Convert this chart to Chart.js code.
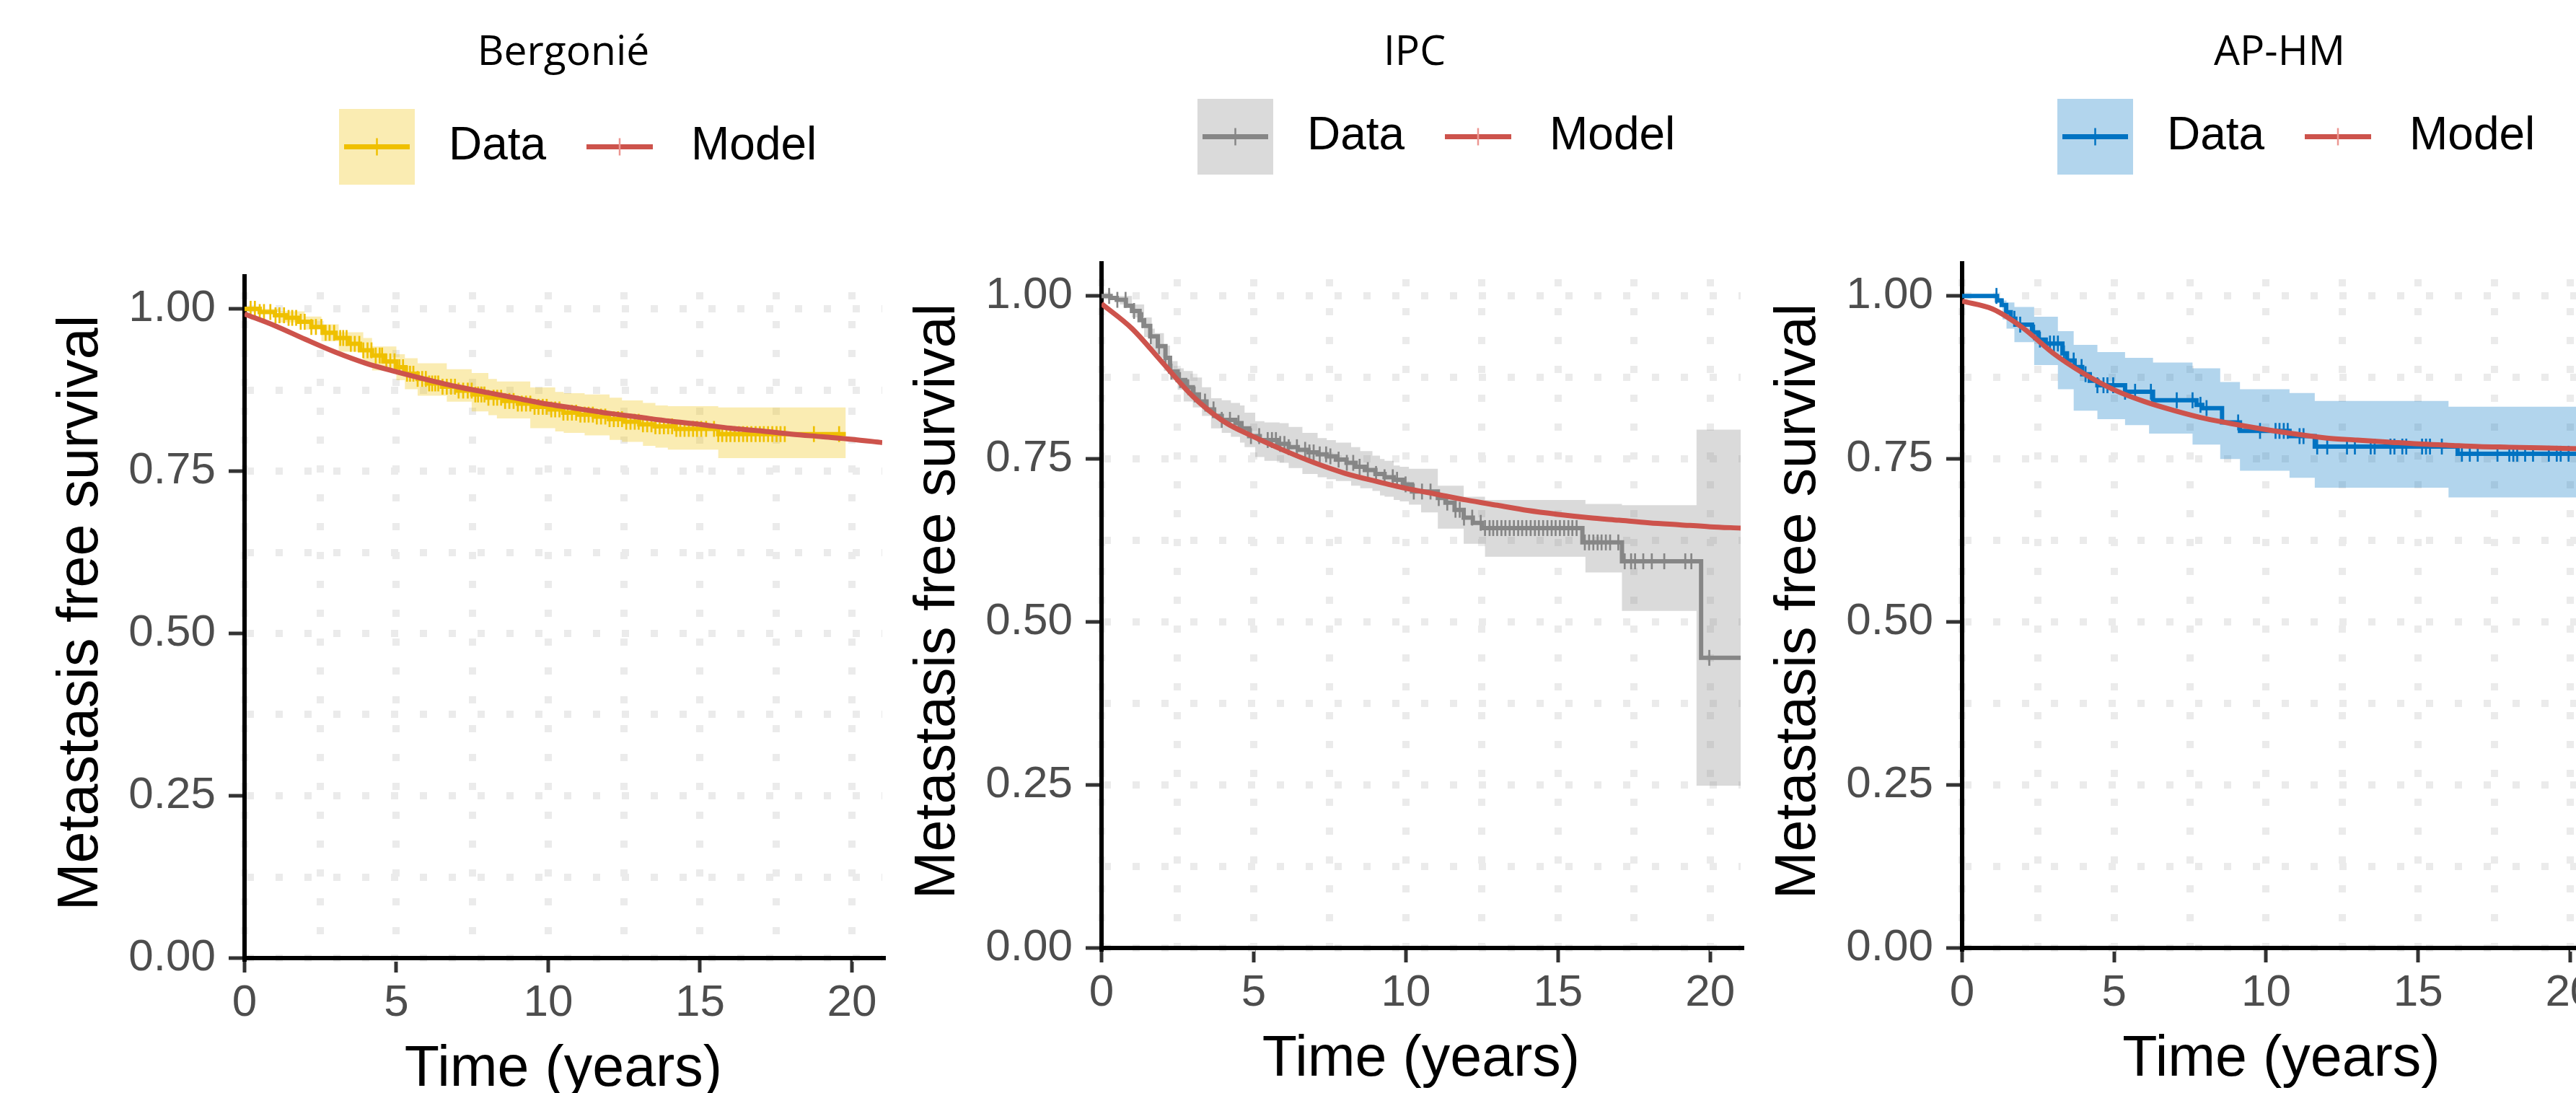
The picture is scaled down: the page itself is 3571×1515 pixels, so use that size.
<!DOCTYPE html>
<html>
<head>
<meta charset="utf-8">
<script src="https://cdn.jsdelivr.net/npm/chart.js@4.4.1/dist/chart.umd.min.js"></script>
<style>
  html, body { margin: 0; padding: 0; background: #fff; }
  body { width: 3571px; height: 1515px; overflow: hidden; position: relative; }
  canvas { position: absolute; top: 0; }
</style>
</head>
<body>
<canvas id="bergonie" width="1240" height="1515" style="left:0px"></canvas>
<canvas id="ipc" width="1190" height="1515" style="left:1240px"></canvas>
<canvas id="aphm" width="1300" height="1515" style="left:2430px"></canvas>
<script>
// axis ticks and texts
const xGrid = [0, 2.5, 5, 7.5, 10, 12.5, 15, 17.5, 20];
const xMajor = [0, 5, 10, 15, 20];
const yGrid = [0, 0.125, 0.25, 0.375, 0.5, 0.625, 0.75, 0.875, 1];
const yMajor = [0, 0.25, 0.5, 0.75, 1];
const xTitle = 'Time (years)';
const yTitle = 'Metastasis free survival';
const seriesNames = ['Data', 'Model'];

// model curves, one value per year
const modelYears = [0, 1, 2, 3, 4, 5, 6, 7, 8, 9, 10, 11, 12, 13, 14, 15, 16, 17, 18, 19, 20, 21];
const bergModel = [0.992, 0.974, 0.953, 0.933, 0.916, 0.903, 0.891, 0.880, 0.871, 0.862, 0.853, 0.846, 0.839, 0.833, 0.827, 0.822, 0.816, 0.812, 0.807, 0.803, 0.799, 0.794];
const ipcModel = [0.988, 0.950, 0.898, 0.846, 0.808, 0.784, 0.763, 0.744, 0.728, 0.716, 0.705, 0.696, 0.687, 0.679, 0.671, 0.665, 0.660, 0.656, 0.652, 0.649, 0.646, 0.644];
const aphmModel = [0.992, 0.980, 0.951, 0.912, 0.881, 0.856, 0.838, 0.824, 0.812, 0.803, 0.795, 0.788, 0.782, 0.779, 0.776, 0.773, 0.771, 0.769, 0.768, 0.767, 0.766, 0.765];

// Bergonié Kaplan-Meier
const bergTime = [0, 0.5, 1.0, 1.4, 1.8, 2.2, 2.6, 3.0, 3.4, 3.8, 4.2, 4.6, 5.0, 5.3, 5.7, 6.0, 6.5, 7.0, 7.5, 8.0, 8.5, 9.0, 9.5, 10.0, 10.5, 11.0, 11.5, 12.0, 12.5, 13.0, 13.5, 14.2, 15.6, 19.8];
const bergSurv = [1.000, 0.995, 0.990, 0.986, 0.980, 0.972, 0.963, 0.955, 0.946, 0.936, 0.928, 0.919, 0.910, 0.900, 0.892, 0.885, 0.880, 0.874, 0.868, 0.863, 0.858, 0.854, 0.849, 0.845, 0.840, 0.837, 0.834, 0.830, 0.826, 0.822, 0.819, 0.815, 0.807, 0.807];
const bergBandTime = [0, 1.16, 1.98, 2.53, 3.1, 3.91, 4.2, 5.0, 5.28, 5.7, 6.66, 7.48, 8.03, 8.31, 9.41, 10.23, 10.51, 11.2, 12.02, 12.43, 13.12, 13.53, 13.94, 15.6, 19.8];
const bergUpper = [1.0, 0.996, 0.988, 0.976, 0.964, 0.955, 0.942, 0.930, 0.924, 0.916, 0.907, 0.901, 0.892, 0.888, 0.879, 0.872, 0.870, 0.868, 0.863, 0.859, 0.855, 0.851, 0.850, 0.848, 0.848];
const bergLower = [0.995, 0.979, 0.968, 0.950, 0.934, 0.913, 0.905, 0.890, 0.876, 0.866, 0.857, 0.842, 0.836, 0.831, 0.816, 0.811, 0.809, 0.805, 0.798, 0.795, 0.789, 0.786, 0.783, 0.770, 0.770];
const bergCensor = [0.2, 0.34, 0.5, 0.64, 0.85, 1.02, 1.15, 1.3, 1.45, 1.57, 1.7, 1.85, 1.98, 2.2, 2.35, 2.53, 2.67, 2.8, 2.95, 3.15, 3.25, 3.36, 3.5, 3.63, 3.78, 3.91, 4.05, 4.18, 4.32, 4.45, 4.53, 4.67, 4.8, 4.94, 5.1, 5.22, 5.35, 5.45, 5.56, 5.7, 5.85, 5.97, 6.08, 6.18, 6.28, 6.38, 6.52, 6.66, 6.8, 6.93, 7.05, 7.2, 7.35, 7.48, 7.6, 7.69, 7.8, 7.9, 8.03, 8.2, 8.32, 8.45, 8.58, 8.72, 8.86, 9.0, 9.13, 9.27, 9.41, 9.55, 9.68, 9.82, 9.95, 10.1, 10.23, 10.37, 10.5, 10.64, 10.78, 10.92, 11.06, 11.2, 11.33, 11.47, 11.6, 11.74, 11.88, 12.02, 12.16, 12.3, 12.43, 12.57, 12.71, 12.85, 12.98, 13.12, 13.26, 13.4, 13.53, 13.67, 13.81, 13.95, 14.08, 14.22, 14.35, 14.49, 14.63, 14.77, 14.9, 15.04, 15.2, 15.46, 15.6, 15.73, 15.87, 16.0, 16.14, 16.28, 16.42, 16.55, 16.69, 16.83, 16.97, 17.1, 17.24, 17.38, 17.52, 17.65, 17.79, 18.75, 19.58];

// IPC Kaplan-Meier
const ipcTime = [0, 0.3, 0.5, 0.8, 1.0, 1.25, 1.4, 1.6, 1.85, 2.1, 2.25, 2.5, 2.75, 3.0, 3.2, 3.45, 3.7, 3.95, 4.4, 4.6, 4.85, 5.2, 5.8, 6.15, 6.45, 6.8, 7.1, 7.4, 7.7, 8.05, 8.35, 8.65, 9.0, 9.3, 9.6, 9.9, 10.2, 11.05, 11.3, 11.6, 11.9, 12.2, 12.5, 15.8, 17.1, 19.7, 22];
const ipcSurv = [1.000, 0.997, 0.994, 0.985, 0.977, 0.963, 0.954, 0.938, 0.923, 0.905, 0.884, 0.871, 0.860, 0.849, 0.838, 0.826, 0.816, 0.810, 0.805, 0.797, 0.785, 0.779, 0.773, 0.768, 0.764, 0.760, 0.757, 0.754, 0.749, 0.744, 0.738, 0.733, 0.727, 0.722, 0.718, 0.711, 0.700, 0.690, 0.683, 0.672, 0.660, 0.652, 0.644, 0.622, 0.593, 0.445, 0.445];
const ipcBandTime = [0, 0.6, 1.0, 1.4, 1.65, 1.75, 2.05, 2.25, 2.5, 2.7, 3.0, 3.3, 3.6, 3.95, 4.25, 4.55, 4.7, 5.05, 5.35, 5.85, 6.15, 6.6, 7.1, 7.4, 7.7, 8.2, 8.5, 8.9, 9.15, 9.3, 9.6, 9.8, 10.1, 10.5, 11.05, 11.9, 12.6, 15.9, 17.1, 19.55, 22];
const ipcUpper = [1.0, 1.0, 0.987, 0.967, 0.950, 0.943, 0.924, 0.900, 0.889, 0.885, 0.875, 0.860, 0.843, 0.840, 0.836, 0.832, 0.821, 0.808, 0.806, 0.805, 0.799, 0.790, 0.782, 0.779, 0.775, 0.768, 0.762, 0.755, 0.750, 0.747, 0.740, 0.738, 0.735, 0.735, 0.709, 0.692, 0.687, 0.681, 0.679, 0.795, 0.795];
const ipcLower = [0.996, 0.987, 0.967, 0.937, 0.912, 0.905, 0.885, 0.871, 0.856, 0.838, 0.829, 0.816, 0.797, 0.790, 0.784, 0.775, 0.768, 0.753, 0.747, 0.744, 0.736, 0.727, 0.722, 0.719, 0.716, 0.709, 0.705, 0.701, 0.694, 0.692, 0.687, 0.685, 0.680, 0.668, 0.643, 0.620, 0.600, 0.576, 0.517, 0.249, 0.249];
const ipcCensor = [0.25, 0.52, 0.79, 1.07, 1.34, 1.62, 1.89, 2.1, 2.3, 2.58, 2.85, 3.06, 3.4, 3.68, 3.95, 4.22, 4.5, 4.91, 5.18, 5.46, 5.6, 5.73, 5.87, 6.01, 6.15, 6.42, 6.69, 6.83, 6.97, 7.17, 7.38, 7.52, 7.79, 8.06, 8.27, 8.48, 8.75, 9.02, 9.3, 9.57, 9.71, 9.99, 10.26, 10.53, 10.81, 11.08, 11.36, 11.63, 11.77, 11.91, 12.18, 12.46, 12.6, 12.75, 12.87, 13.0, 13.14, 13.27, 13.41, 13.55, 13.69, 13.82, 13.96, 14.1, 14.24, 14.37, 14.51, 14.65, 14.79, 14.92, 15.06, 15.2, 15.34, 15.47, 15.61, 15.88, 16.02, 16.16, 16.3, 16.43, 16.57, 16.71, 16.98, 17.19, 17.4, 17.53, 17.8, 18.08, 18.49, 19.18, 19.38, 19.97];

// AP-HM Kaplan-Meier
const aphmTime = [0, 1.15, 1.3, 1.45, 1.6, 1.75, 2.3, 2.5, 2.75, 3.3, 3.45, 3.7, 3.95, 4.2, 4.45, 5.36, 6.28, 7.71, 7.9, 8.55, 9.14, 10.77, 11.6, 16.3, 22];
const aphmSurv = [1.000, 0.993, 0.986, 0.975, 0.965, 0.956, 0.944, 0.933, 0.927, 0.912, 0.901, 0.891, 0.880, 0.870, 0.863, 0.853, 0.840, 0.833, 0.828, 0.806, 0.793, 0.785, 0.769, 0.758, 0.758];
const aphmBandTime = [0, 1.13, 1.33, 1.46, 1.72, 2.37, 3.15, 3.67, 4.45, 5.36, 6.15, 6.28, 7.58, 8.49, 9.14, 10.77, 11.6, 16.0, 22];
const aphmUpper = [1.0, 0.997, 0.993, 0.990, 0.983, 0.968, 0.946, 0.925, 0.914, 0.905, 0.905, 0.898, 0.889, 0.868, 0.857, 0.851, 0.839, 0.830, 0.830];
const aphmLower = [1.0, 0.990, 0.964, 0.950, 0.929, 0.894, 0.857, 0.824, 0.811, 0.802, 0.789, 0.789, 0.772, 0.750, 0.732, 0.721, 0.706, 0.691, 0.691];
const aphmCensor = [1.13, 1.72, 1.91, 2.37, 2.56, 2.89, 3.02, 3.15, 3.35, 3.67, 3.93, 4.06, 4.45, 4.65, 4.78, 4.97, 5.36, 5.69, 6.21, 7.06, 7.58, 7.84, 8.04, 9.08, 9.8, 10.31, 10.44, 10.58, 10.71, 11.1, 11.23, 11.68, 12.01, 12.66, 12.92, 13.44, 13.57, 14.09, 14.22, 14.48, 14.61, 15.13, 15.26, 15.39, 15.78, 16.44, 16.7, 16.96, 17.61, 18.0, 18.13, 18.26, 18.52, 18.78, 19.3, 19.56, 19.69, 19.95];

const modelColor = '#CD534C';
const sansFont = '"Liberation Sans", Arial, sans-serif';

const pts = (xs, ys) => xs.map((x, i) => ({x: x, y: ys[i]}));
const kmAt = (xs, ys, t) => {
  let v = ys[0];
  for (let i = 0; i < xs.length; i++) if (xs[i] <= t) v = ys[i];
  return v;
};

// title, legend and axis titles drawn around the plot area
const panelDecor = {
  id: 'panelDecor',
  afterDraw(chart, args, o) {
    const {ctx, chartArea: a} = chart;
    ctx.save();
    ctx.fillStyle = '#000';
    ctx.font = '57px "Open Sans", sans-serif';
    ctx.textAlign = 'center';
    ctx.textBaseline = 'alphabetic';
    ctx.fillText(o.title, a.left + o.titleDx, 90);

    const L = a.left + o.legendDx, T = o.legendTop, K = 105, cy = T + K / 2;
    ctx.fillStyle = o.band;
    ctx.fillRect(L, T, K, K);
    const key = (x1, x2, col, tickCol) => {
      ctx.lineCap = 'butt';
      ctx.strokeStyle = col;
      ctx.lineWidth = 7;
      ctx.beginPath(); ctx.moveTo(x1, cy); ctx.lineTo(x2, cy); ctx.stroke();
      ctx.strokeStyle = tickCol;
      ctx.lineWidth = 2.5;
      const xm = (x1 + x2) / 2;
      ctx.beginPath(); ctx.moveTo(xm, cy - 12); ctx.lineTo(xm, cy + 12); ctx.stroke();
    };
    key(L + 7, L + 98, o.color, o.color);
    key(L + 343, L + 435, modelColor, 'rgba(236,150,145,1)');
    ctx.fillStyle = '#000';
    ctx.font = '64px ' + sansFont;
    ctx.textAlign = 'left';
    ctx.textBaseline = 'middle';
    ctx.fillText(seriesNames[0], L + 152, cy);
    ctx.fillText(seriesNames[1], L + 488, cy);

    ctx.font = '79px ' + sansFont;
    ctx.textAlign = 'center';
    ctx.textBaseline = 'alphabetic';
    ctx.fillText(xTitle, (a.left + a.right) / 2, a.bottom + 177);
    ctx.translate(a.left - 204, (a.top + a.bottom) / 2 - 6);
    ctx.rotate(-Math.PI / 2);
    ctx.fillText(yTitle, 0, 0);
    ctx.restore();
  }
};

function makePanel(id, p) {
  const tickFont = {family: sansFont, size: 62};
  const majorTick = list => c => (c.tick && list.includes(c.tick.value)) ? '#333333' : 'rgba(0,0,0,0)';
  const censorPts = p.censor.map(t => ({x: t, y: kmAt(p.time, p.surv, t)}));
  return new Chart(document.getElementById(id), {
    type: 'line',
    data: {
      datasets: [
        { data: pts(p.bandTime, p.upper), stepped: true, borderWidth: 0, pointRadius: 0,
          fill: '+1', backgroundColor: p.band, order: 4 },
        { data: pts(p.bandTime, p.lower), stepped: true, borderWidth: 0, pointRadius: 0,
          fill: false, order: 4 },
        { data: pts(p.time, p.surv), stepped: true, borderColor: p.color, borderWidth: 6,
          pointRadius: 0, fill: false, order: 2 },
        { data: censorPts, showLine: false, pointStyle: 'line', pointRotation: 90,
          pointRadius: 11, pointBorderWidth: 2.7, pointBorderColor: p.color, order: 1 },
        { data: pts(modelYears, p.model), borderColor: modelColor, borderWidth: 7,
          cubicInterpolationMode: 'monotone', pointRadius: 0, fill: false, order: 0 }
      ]
    },
    options: {
      responsive: false,
      animation: false,
      devicePixelRatio: 1,
      events: [],
      layout: { padding: { top: p.top, right: p.padRight, left: 0, bottom: 0 } },
      plugins: {
        legend: { display: false },
        tooltip: { enabled: false },
        panelDecor: p.decor
      },
      scales: {
        x: {
          type: 'linear', min: 0, max: 21,
          afterBuildTicks: s => { s.ticks = xGrid.map(v => ({value: v})); },
          afterFit: s => { s.height = p.xAxisHeight; },
          ticks: { callback: v => xMajor.includes(v) ? String(v) : '', font: tickFont,
                   color: '#4D4D4D', padding: 6, maxRotation: 0, autoSkip: false },
          grid: { color: '#EBEBEB', lineWidth: 10, tickLength: 20, tickWidth: 5,
                  tickColor: majorTick(xMajor) },
          border: { display: true, color: '#000', width: 6, dash: [10, 30], dashOffset: 18 }
        },
        y: {
          type: 'linear', min: 0, max: 1.05,
          afterBuildTicks: s => { s.ticks = yGrid.map(v => ({value: v})); },
          afterFit: s => { s.width = p.yAxisWidth; },
          ticks: { callback: v => yMajor.includes(v) ? v.toFixed(2) : '', font: tickFont,
                   color: '#4D4D4D', padding: 18, autoSkip: false },
          grid: { color: '#EBEBEB', lineWidth: 10, tickLength: 22, tickWidth: 5,
                  tickColor: majorTick(yMajor) },
          border: { display: true, color: '#000', width: 6, dash: [10, 30] }
        }
      }
    },
    plugins: [panelDecor]
  });
}

makePanel('bergonie', {
  time: bergTime, surv: bergSurv, bandTime: bergBandTime, upper: bergUpper, lower: bergLower,
  censor: bergCensor, model: bergModel,
  color: '#EFC000', band: 'rgba(239,192,0,0.3)',
  top: 383, padRight: 17, yAxisWidth: 339, xAxisHeight: 187,
  decor: { title: 'Bergonié', titleDx: 442, legendDx: 131, legendTop: 151,
           color: '#EFC000', band: 'rgba(239,192,0,0.3)' }
});

makePanel('ipc', {
  time: ipcTime, surv: ipcSurv, bandTime: ipcBandTime, upper: ipcUpper, lower: ipcLower,
  censor: ipcCensor, model: ipcModel,
  color: '#868686', band: 'rgba(134,134,134,0.3)',
  top: 365, padRight: 17, yAxisWidth: 287, xAxisHeight: 201,
  decor: { title: 'IPC', titleDx: 434, legendDx: 133, legendTop: 137,
           color: '#868686', band: 'rgba(134,134,134,0.3)' }
});

makePanel('aphm', {
  time: aphmTime, surv: aphmSurv, bandTime: aphmBandTime, upper: aphmUpper, lower: aphmLower,
  censor: aphmCensor, model: aphmModel,
  color: '#0073C2', band: 'rgba(0,115,194,0.3)',
  top: 365, padRight: 125, yAxisWidth: 290, xAxisHeight: 201,
  decor: { title: 'AP-HM', titleDx: 440, legendDx: 132, legendTop: 137,
           color: '#0073C2', band: 'rgba(0,115,194,0.3)' }
});
</script>
</body>
</html>
